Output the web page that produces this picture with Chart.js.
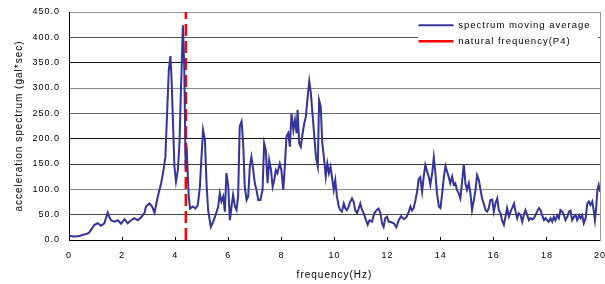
<!DOCTYPE html>
<html><head><meta charset="utf-8">
<script src="https://cdn.jsdelivr.net/npm/chart.js@4/dist/chart.umd.min.js"></script>
<style>html,body{margin:0;padding:0;background:#fff;}canvas{display:block;}</style>
</head><body>
<canvas id="c" width="605" height="284"></canvas>
<script>
// ---- data ----
const frequency = [0.02,0.20,0.39,0.50,0.64,0.75,0.83,0.96,1.08,1.21,1.33,1.46,1.52,1.58,1.71,1.84,1.96,2.09,2.21,2.34,2.46,2.59,2.72,2.84,2.90,3.03,3.13,3.22,3.34,3.47,3.56,3.63,3.70,3.76,3.82,3.86,3.91,3.97,4.03,4.10,4.16,4.22,4.29,4.34,4.39,4.44,4.51,4.56,4.66,4.76,4.85,4.93,4.99,5.05,5.12,5.18,5.24,5.34,5.43,5.52,5.62,5.68,5.74,5.81,5.87,5.93,6.00,6.06,6.12,6.18,6.25,6.31,6.37,6.43,6.50,6.56,6.62,6.69,6.75,6.81,6.87,6.94,7.00,7.06,7.13,7.21,7.29,7.35,7.41,7.48,7.54,7.61,7.67,7.73,7.79,7.85,7.94,8.00,8.07,8.13,8.19,8.26,8.32,8.38,8.45,8.51,8.57,8.61,8.67,8.73,8.80,8.86,8.92,8.99,9.05,9.11,9.18,9.24,9.30,9.37,9.42,9.48,9.54,9.61,9.67,9.73,9.79,9.85,9.92,9.97,10.03,10.09,10.16,10.22,10.28,10.35,10.41,10.47,10.53,10.60,10.66,10.72,10.78,10.85,10.91,10.97,11.04,11.10,11.16,11.25,11.32,11.41,11.50,11.58,11.66,11.73,11.79,11.85,11.91,11.98,12.04,12.10,12.23,12.33,12.42,12.51,12.61,12.71,12.80,12.86,12.92,12.98,13.05,13.11,13.17,13.23,13.30,13.36,13.42,13.49,13.55,13.61,13.68,13.74,13.80,13.86,13.93,13.99,14.05,14.12,14.18,14.24,14.30,14.36,14.43,14.49,14.55,14.61,14.68,14.74,14.80,14.87,14.93,14.99,15.06,15.12,15.18,15.25,15.31,15.37,15.44,15.50,15.56,15.62,15.69,15.75,15.81,15.87,15.94,16.00,16.06,16.13,16.19,16.25,16.31,16.38,16.44,16.50,16.57,16.63,16.69,16.76,16.82,16.88,16.94,17.01,17.07,17.13,17.19,17.26,17.32,17.38,17.45,17.51,17.57,17.63,17.70,17.76,17.82,17.89,17.95,18.01,18.07,18.14,18.20,18.26,18.32,18.39,18.45,18.51,18.58,18.64,18.70,18.77,18.83,18.89,18.95,19.02,19.08,19.14,19.21,19.27,19.33,19.39,19.46,19.52,19.58,19.64,19.71,19.77,19.81,19.86,19.90,19.95,20.00];
const spectrum = [8,7,8,10,12,14,20,30,33,28,33,54,45,39,36,39,32,41,33,39,43,39,45,53,66,72,66,54,85,112,138,164,257,336,363,322,243,145,115,138,191,303,424,342,158,171,86,62,66,62,69,105,164,217,197,112,59,26,36,49,66,92,76,86,56,132,105,39,66,89,66,59,86,224,234,191,105,79,86,145,164,138,112,99,79,79,99,191,178,112,158,138,105,118,138,132,151,138,99,145,204,211,184,250,217,237,211,257,191,184,211,230,243,283,313,290,243,204,164,145,276,263,191,158,125,151,132,145,118,99,118,86,66,59,56,72,62,59,66,76,82,76,59,53,62,72,59,53,43,30,39,36,53,59,62,53,33,26,43,46,36,36,33,25,39,47,41,45,56,66,58,63,79,95,120,124,95,125,148,135,125,109,132,163,132,92,66,63,89,125,146,135,125,112,125,109,112,99,92,82,112,150,112,99,112,92,59,79,99,128,118,99,82,72,59,56,63,79,80,56,72,82,59,53,39,30,46,63,46,56,63,72,56,43,53,49,36,49,59,49,39,43,41,43,49,56,63,59,49,39,43,39,36,43,36,46,39,49,43,59,56,49,39,46,56,58,39,46,49,39,49,43,49,33,43,72,76,69,76,56,39,66,99,109,95];
const naturalFrequency = 4.40;
const naturalFreqSpan = [0, 450];
const xTicks = [0,2,4,6,8,10,12,14,16,18,20];
const yTicks = [0,50,100,150,200,250,300,350,400,450];
const yTickLabels = ['0.0','50.0','100.0','150.0','200.0','250.0','300.0','350.0','400.0','450.0'];
const seriesNames = ['spectrum moving average','natural frequency(P4)'];
const xTitle = 'frequency(Hz)';
const yTitle = 'acceleration spectrum (gal*sec)';

// ---- styling ----
const FAMILY = '"Liberation Sans", Arial, sans-serif';
const gridColors = {0:'#000',50:'#444',100:'#888',150:'#333',200:'#111',250:'#666',300:'#888',350:'#111',400:'#555',450:'#a0a0a0'};

const zeroPad = s => { s.paddingLeft = 0; s.paddingRight = 0; s.paddingTop = 0; s.paddingBottom = 0; };

const spacingPlugin = {
  id: 'spacing',
  beforeUpdate(chart){ chart.ctx.letterSpacing = '1px'; },
  beforeDraw(chart){ chart.ctx.letterSpacing = '1px'; }
};
const legendPlace = {
  id: 'legendPlace',
  afterLayout(chart){
    const lg = chart.legend; if (!lg) return;
    lg.left = 412; lg.top = 14; lg.right = 599; lg.bottom = 80;
  },
  beforeDatasetsDraw(chart){
    const c = chart.ctx;
    c.save(); c.fillStyle = '#fff'; c.fillRect(418, 13, 180, 37); c.restore();
    chart.legend.draw();
  }
};

new Chart(document.getElementById('c').getContext('2d'), {
  type: 'line',
  data: {
    datasets: [
      { label: seriesNames[0], data: frequency.map((f,i)=>({x:f, y:spectrum[i]})),
        borderColor:'#333399', backgroundColor:'#333399', borderWidth:2, pointRadius:0, tension:0, fill:false },
      { label: seriesNames[1], data: naturalFreqSpan.map(v=>({x:naturalFrequency, y:v})),
        borderColor:'#ff0000', backgroundColor:'#ff0000', borderWidth:2.5, borderDash:[12,5], pointRadius:0, fill:false }
    ]
  },
  options: {
    responsive:false, animation:false, devicePixelRatio:1,
    layout:{ padding:{ top:12, right:5, left:0, bottom:0 } },
    plugins:{
      tooltip:{ enabled:false },
      legend:{ position:'chartArea', align:'start', fullSize:false,
        labels:{ usePointStyle:true, pointStyle:'line', pointStyleWidth:35, boxWidth:35, padding:6.5, color:'#000',
          font:{ family:FAMILY, size:9.5 } } }
    },
    scales:{
      x:{ type:'linear', min:0, max:20,
        afterBuildTicks: s => { s.ticks = xTicks.map(v=>({value:v})); },
        afterFit: s => { s.height = 44; zeroPad(s); },
        ticks:{ color:'#000', padding:13, maxRotation:0, autoSkip:false, font:{ family:FAMILY, size:9 } },
        grid:{ drawOnChartArea:false, tickLength:-3, color:'#000' },
        border:{ color:'#000', width:1 },
        title:{ display:true, text:xTitle, color:'#000', font:{ family:FAMILY, size:10 }, padding:{ top:0, bottom:3 } }
      },
      y:{ min:0, max:450,
        afterBuildTicks: s => { s.ticks = yTicks.map(v=>({value:v})); },
        afterFit: s => { s.width = 69; zeroPad(s); },
        ticks:{ color:'#000', padding:9, font:{ family:FAMILY, size:9 },
          callback: v => yTickLabels[yTicks.indexOf(v)] },
        grid:{ drawTicks:false, color: c => gridColors[c.tick ? c.tick.value : 0] || '#000' },
        border:{ color:'#000', width:1 },
        title:{ display:true, text:yTitle, color:'#000', font:{ family:FAMILY, size:10 }, padding:{ top:13, bottom:0 } }
      },
      y2:{ position:'right', min:0, max:1,
        afterFit: s => { s.width = 0; zeroPad(s); },
        ticks:{ display:false },
        grid:{ drawOnChartArea:false, drawTicks:false },
        border:{ color:'#999', width:1 }
      }
    }
  },
  plugins:[spacingPlugin, legendPlace]
});
</script>
</body></html>
